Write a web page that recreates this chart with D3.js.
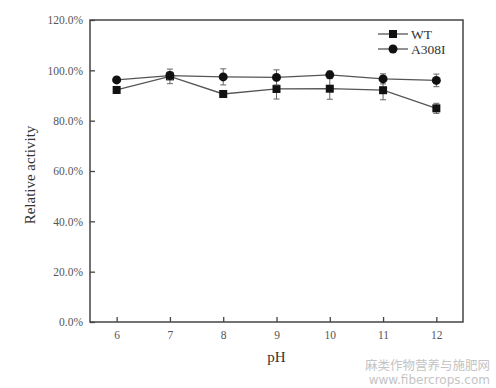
<!DOCTYPE html>
<html>
<head>
<meta charset="utf-8">
<script src="https://cdn.jsdelivr.net/npm/d3@7"></script>
<style>
  html, body { margin: 0; padding: 0; background: #fff; }
  svg { display: block; }
</style>
</head>
<body>
<div id="chart"></div>
<script>
// Data
const phValues = [6, 7, 8, 9, 10, 11, 12];
const wtValues = [92.2, 97.6, 90.6, 92.6, 92.7, 92.1, 84.9];
const wtErrors = [1.2, 2.9, 1.0, 4.0, 4.2, 3.8, 2.0];
const a308iValues = [96.2, 97.9, 97.4, 97.2, 98.2, 96.6, 96.0];
const a308iErrors = [1.0, 1.5, 3.2, 3.0, 1.5, 2.0, 2.5];
const yTicks = [0, 20, 40, 60, 80, 100, 120];

const width = 496, height = 388;
const margin = { left: 90, right: 33, top: 20, bottom: 66 };
const ink = "#444";
const textColor = "#555";

const svg = d3.select("#chart").append("svg")
  .attr("width", width)
  .attr("height", height);

const x = d3.scaleLinear().domain([5.5, 12.5]).range([margin.left, width - margin.right]);
const y = d3.scaleLinear().domain([0, 120]).range([height - margin.bottom, margin.top]);

// frame
svg.append("rect")
  .attr("x", margin.left).attr("y", margin.top)
  .attr("width", width - margin.left - margin.right)
  .attr("height", height - margin.top - margin.bottom)
  .attr("fill", "none").attr("stroke", ink).attr("stroke-width", 1.5);

// axes (ticks pointing inward)
const xAxis = svg.append("g")
  .attr("transform", `translate(0,${height - margin.bottom})`)
  .call(d3.axisBottom(x).tickValues(phValues).tickSizeInner(-5).tickSizeOuter(0).tickPadding(9)
    .tickFormat(d3.format("d")));
const yAxis = svg.append("g")
  .attr("transform", `translate(${margin.left},0)`)
  .call(d3.axisLeft(y).tickValues(yTicks).tickSizeInner(-5).tickSizeOuter(0).tickPadding(7)
    .tickFormat(d => d.toFixed(1) + "%"));

[xAxis, yAxis].forEach(g => {
  g.select(".domain").remove();
  g.selectAll(".tick line").attr("stroke", ink).attr("stroke-width", 1.3);
  g.selectAll(".tick text")
    .attr("fill", textColor)
    .style("font-family", "'Liberation Serif', serif")
    .style("font-size", "11.5px");
});

// axis titles
svg.append("text")
  .attr("x", x(9)).attr("y", 362)
  .attr("text-anchor", "middle")
  .attr("fill", "#333")
  .style("font-family", "'Liberation Serif', serif")
  .style("font-size", "15px")
  .text("pH");

svg.append("text")
  .attr("transform", `translate(35,${y(60) + 4}) rotate(-90)`)
  .attr("text-anchor", "middle")
  .attr("fill", "#333")
  .style("font-family", "'Liberation Serif', serif")
  .style("font-size", "15px")
  .text("Relative activity");

const series = [
  { name: "WT", values: wtValues, errors: wtErrors, shape: "square" },
  { name: "A308I", values: a308iValues, errors: a308iErrors, shape: "circle" }
];

const line = d3.line().x(d => x(d.ph)).y(d => y(d.v));

series.forEach(s => {
  const pts = phValues.map((ph, i) => ({ ph, v: s.values[i], e: s.errors[i] }));
  const g = svg.append("g");

  // error bars
  pts.forEach(p => {
    g.append("line")
      .attr("x1", x(p.ph)).attr("x2", x(p.ph))
      .attr("y1", y(p.v - p.e)).attr("y2", y(p.v + p.e))
      .attr("stroke", "#666").attr("stroke-width", 1);
    [p.v - p.e, p.v + p.e].forEach(v => {
      g.append("line")
        .attr("x1", x(p.ph) - 3).attr("x2", x(p.ph) + 3)
        .attr("y1", y(v)).attr("y2", y(v))
        .attr("stroke", "#666").attr("stroke-width", 1);
    });
  });

  g.append("path")
    .datum(pts)
    .attr("d", line)
    .attr("fill", "none")
    .attr("stroke", "#555")
    .attr("stroke-width", 1.3);

  if (s.shape === "square") {
    g.selectAll("rect.m").data(pts).enter().append("rect")
      .attr("x", d => x(d.ph) - 4).attr("y", d => y(d.v) - 4)
      .attr("width", 8).attr("height", 8)
      .attr("fill", "#111");
  } else {
    g.selectAll("circle.m").data(pts).enter().append("circle")
      .attr("cx", d => x(d.ph)).attr("cy", d => y(d.v))
      .attr("r", 4.5)
      .attr("fill", "#111");
  }
});

// legend
const legend = svg.append("g").attr("transform", "translate(378,34)");
series.forEach((s, i) => {
  const row = legend.append("g").attr("transform", `translate(0,${i * 15})`);
  row.append("line").attr("x1", 0).attr("x2", 30).attr("y1", 0).attr("y2", 0)
    .attr("stroke", "#555").attr("stroke-width", 1.3);
  if (s.shape === "square") {
    row.append("rect").attr("x", 11).attr("y", -4).attr("width", 8).attr("height", 8).attr("fill", "#111");
  } else {
    row.append("circle").attr("cx", 15).attr("cy", 0).attr("r", 4.5).attr("fill", "#111");
  }
  row.append("text")
    .attr("x", 33).attr("y", 4.5)
    .attr("fill", "#333")
    .style("font-family", "'Liberation Serif', serif")
    .style("font-size", "13.5px")
    .text(s.name);
});

// watermark
const wm = svg.append("g").attr("fill", "#c4c4c4").style("font-family", "'Noto Sans CJK SC', sans-serif");
wm.append("text").attr("x", 490).attr("y", 370).attr("text-anchor", "end")
  .style("font-size", "12.5px").text("麻类作物营养与施肥网");
wm.append("text").attr("x", 490).attr("y", 384).attr("text-anchor", "end")
  .style("font-family", "'DejaVu Sans', sans-serif")
  .style("font-size", "12px").text("www.fibercrops.com");
</script>
</body>
</html>
